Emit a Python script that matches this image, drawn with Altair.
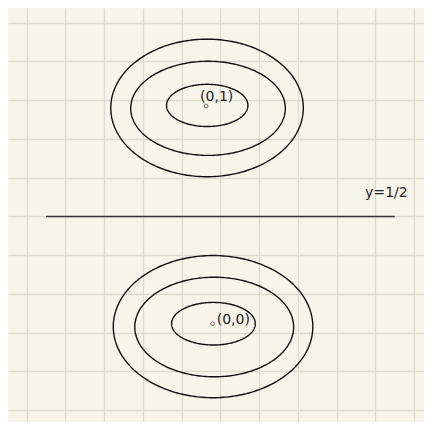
import altair as alt
import numpy as np
import pandas as pd

# ---- data (grid units: one grid cell = 1 unit) ----
ell_name = ["top_outer", "top_mid", "top_inner", "bot_outer", "bot_mid", "bot_inner"]
ell_cx = [9.31, 9.36, 9.32, 9.62, 9.68, 9.64]
ell_cy = [15.60, 15.58, 15.73, 4.31, 4.29, 4.46]
ell_a = [4.97, 3.99, 2.10, 5.15, 4.10, 2.16]
ell_b = [3.55, 2.43, 1.09, 3.67, 2.57, 1.10]

line_x = [1, 19]
line_y = [10, 10]

pt_x = [9.26, 9.60]
pt_y = [15.70, 4.46]

lab_text = ["(0,1)", "(0,0)", "y=1/2"]
lab_x = [8.95, 9.81, 17.47]
lab_y = [16.15, 4.67, 11.22]

x_domain = [-0.965, 20.51]
y_domain = [-0.614, 20.76]
x_grid = list(range(0, 21))
y_grid = list(range(0, 21))

# ---- build tables ----
rows = []
t = np.linspace(0, 2 * np.pi, 241)
for n, cx, cy, a, b in zip(ell_name, ell_cx, ell_cy, ell_a, ell_b):
    for i, tt in enumerate(t):
        rows.append({"id": n, "i": i, "x": cx + a * np.cos(tt), "y": cy + b * np.sin(tt)})
ell_df = pd.DataFrame(rows)

line_df = pd.DataFrame({"x": [line_x[0]], "x2": [line_x[1]], "y": [line_y[0]]})
pt_df = pd.DataFrame({"x": pt_x, "y": pt_y})
lab_df = pd.DataFrame({"text": lab_text, "x": lab_x, "y": lab_y})

xs = alt.Scale(domain=x_domain, nice=False, zero=False)
ys = alt.Scale(domain=y_domain, nice=False, zero=False)
xax = alt.Axis(values=x_grid, labels=False, ticks=False, domain=False, title=None,
               grid=True, gridColor="#dedcd0", gridWidth=1.3)
yax = alt.Axis(values=y_grid, labels=False, ticks=False, domain=False, title=None,
               grid=True, gridColor="#dedcd0", gridWidth=1.3)

ellipses = alt.Chart(ell_df).mark_line(color="#111111", strokeWidth=1.4).encode(
    x=alt.X("x:Q", scale=xs, axis=xax),
    y=alt.Y("y:Q", scale=ys, axis=yax),
    detail="id:N",
    order="i:Q",
)

hline = alt.Chart(line_df).mark_rule(color="#333333", strokeWidth=1.5).encode(
    x=alt.X("x:Q", scale=xs), x2="x2:Q", y=alt.Y("y:Q", scale=ys)
)

pts = alt.Chart(pt_df).mark_point(shape="circle", filled=False, size=14,
                                   color="#333333", strokeWidth=1).encode(
    x=alt.X("x:Q", scale=xs), y=alt.Y("y:Q", scale=ys)
)

labels = alt.Chart(lab_df).mark_text(align="left", baseline="middle", font="DejaVu Sans",
                                      fontSize=14, color="#222222").encode(
    x=alt.X("x:Q", scale=xs), y=alt.Y("y:Q", scale=ys), text="text:N"
)

chart = alt.layer(ellipses, hline, pts, labels).properties(
    width=416, height=414, padding=0, autosize=alt.AutoSizeParams(type="none"),
    background="#f7f5e9",
).configure_view(stroke=None, fill="#f7f5e9")

chart.save("out.html", embed_options={"renderer": "svg", "actions": False})
